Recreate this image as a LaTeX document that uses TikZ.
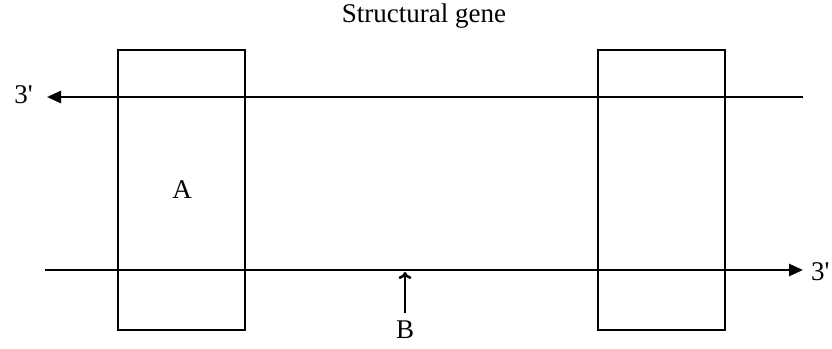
\documentclass[tikz,border=0pt]{standalone}
\usepackage{fontspec}
\setmainfont{Liberation Serif}
\usetikzlibrary{arrows.meta}
\begin{document}
\begin{tikzpicture}[x=1pt,y=-1pt,
  lbl/.style={font=\fontsize{27}{29}\selectfont, inner sep=0pt},
  gbox/.style={draw, line width=2.5pt, minimum width=127pt, minimum height=280pt, inner sep=0pt},
  strand/.style={line width=2.5pt, -{Triangle[length=14pt,width=12pt]}},
  ptr/.style={line width=2.5pt, -{To[length=7pt,width=13pt]}}]
\useasboundingbox (0,0) rectangle (832,348);
\node[gbox] (boxA) at (181.5,190) {};
\node[gbox] (boxR) at (661.5,190) {};
\node[lbl] (title) at (424,16) {Structural gene};
\node[lbl] (A) at (182,190) {A};
\node[lbl, anchor=east] (t3l) at (33,95) {3\textquotesingle};
\node[lbl, anchor=west] (t3r) at (811,272) {3\textquotesingle};
\coordinate (topR) at (803,97);
\coordinate (topL) at (47,97);
\coordinate (botL) at (45,270);
\coordinate (botR) at (803,270);
\draw[strand] (topR) -- (topL);
\draw[strand] (botL) -- (botR);
\node[lbl] (B) at (405,330) {B};
\coordinate (Bt) at (405,313);
\coordinate (Bh) at (405,272);
\draw[ptr] (Bt) -- (Bh);
\end{tikzpicture}
\end{document}
